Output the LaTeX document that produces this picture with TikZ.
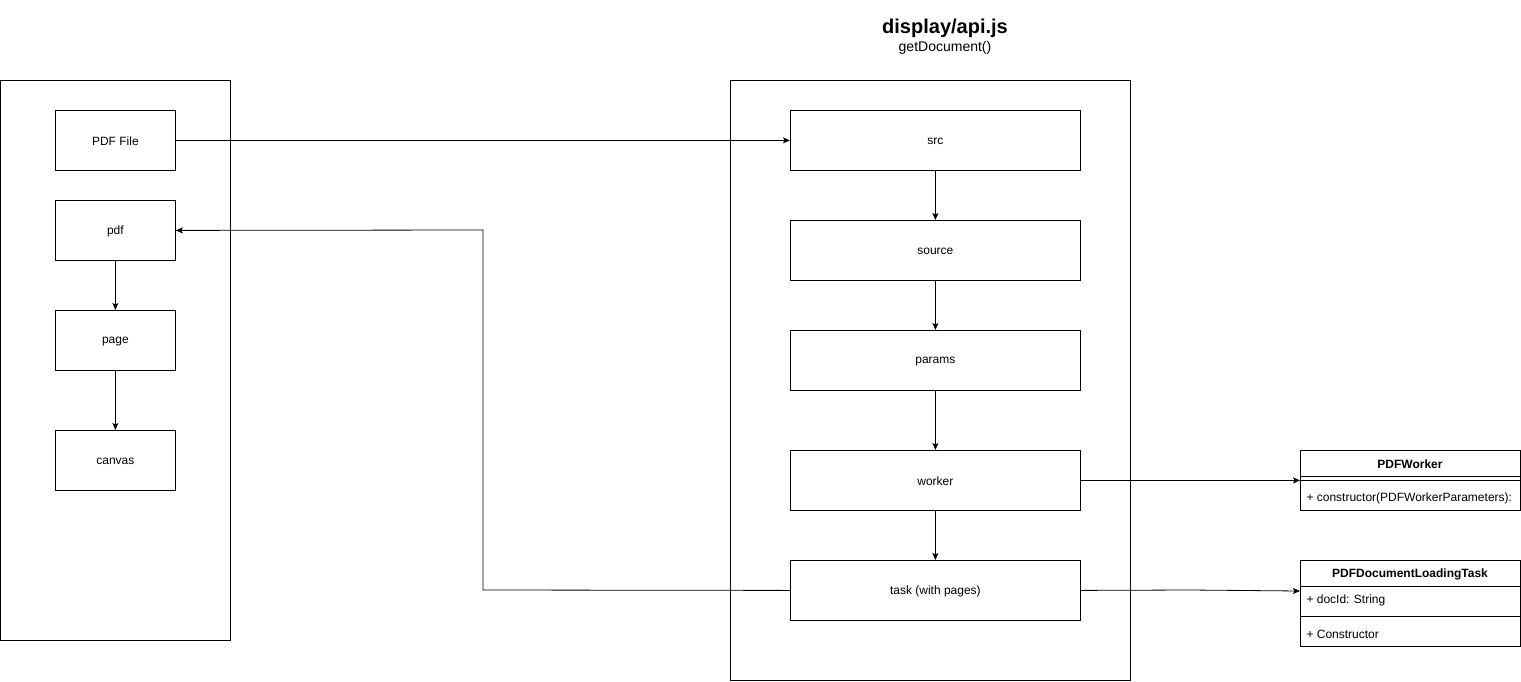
\documentclass[tikz,border=0pt]{standalone}
\usepackage{fontspec}
\setmainfont{Liberation Sans}
\usetikzlibrary{arrows.meta}
\begin{document}
\begin{tikzpicture}[x=1pt,y=-1pt,line width=1pt,
  box/.style={draw,line width=0.8pt,anchor=north west,inner sep=0pt,font=\fontsize{12}{14}\selectfont},
  cont/.style={draw,line width=0.8pt,anchor=north west,inner sep=0pt},
  lbl/.style={font=\fontsize{12}{14}\selectfont,yshift=-1pt},
  conn/.style={draw,line width=0.8pt,-{Stealth[length=7pt,width=6pt,inset=1.5pt]}},
  umltxt/.style={anchor=west,inner sep=0pt,font=\fontsize{12}{14}\selectfont}]
\useasboundingbox (0,0) rectangle (1521,681);
% containers
\node[cont,minimum width=230pt,minimum height=560pt] (left) at (0,80) {};
\node[cont,minimum width=400pt,minimum height=600pt] (right) at (730,80) {};
% title
\node[font=\bfseries\fontsize{20}{24}\selectfont,inner sep=0pt] (title) at (945,28) {display/api.js};
\node[font=\fontsize{14}{16}\selectfont,inner sep=0pt] (sub) at (945,48) {getDocument()};
% left boxes
\node[box,minimum width=120pt,minimum height=60pt] (pdffile) at (55,110) {};
\node[lbl] (pdffilet) at (pdffile.center) {PDF File};
\node[box,minimum width=120pt,minimum height=60pt] (pdf) at (55,200) {};
\node[lbl] (pdft) at (pdf.center) {pdf};
\node[box,minimum width=120pt,minimum height=60pt] (page) at (55,310) {};
\node[lbl] (paget) at (page.center) {page};
\node[box,minimum width=120pt,minimum height=60pt] (canvas) at (55,430) {};
\node[lbl] (canvast) at (canvas.center) {canvas};
% right boxes
\node[box,minimum width=290pt,minimum height=60pt] (src) at (790,110) {};
\node[lbl] (srct) at (src.center) {src};
\node[box,minimum width=290pt,minimum height=60pt] (source) at (790,220) {};
\node[lbl] (sourcet) at (source.center) {source};
\node[box,minimum width=290pt,minimum height=60pt] (params) at (790,330) {};
\node[lbl] (paramst) at (params.center) {params};
\node[box,minimum width=290pt,minimum height=60pt] (worker) at (790,450) {};
\node[lbl] (workert) at (worker.center) {worker};
\node[box,minimum width=290pt,minimum height=60pt] (task) at (790,560) {};
\node[lbl] (taskt) at (task.center) {task (with pages)};
% UML PDFWorker
\node[cont,minimum width=220pt,minimum height=60pt] (pw) at (1300,450) {};
\node[font=\bfseries\fontsize{12}{14}\selectfont,inner sep=0pt] (pwt) at (1410,464) {PDFWorker};
\draw[line width=0.8pt] (1300,476) -- (1520,476);
\draw[line width=0.8pt] (1300,480) -- (1520,480);
\node[umltxt] (pwm) at (1306,498) {+ constructor(PDFWorkerParameters):};
% UML PDFDocumentLoadingTask
\node[cont,minimum width=220pt,minimum height=86pt] (lt) at (1300,560) {};
\node[font=\bfseries\fontsize{12}{14}\selectfont,inner sep=0pt] (ltt) at (1410,574) {PDFDocumentLoadingTask};
\draw[line width=0.8pt] (1300,586) -- (1520,586);
\node[umltxt] (lta) at (1306,600.5) {+ docId: String};
\draw[line width=0.8pt] (1300,616) -- (1520,616);
\node[umltxt] (ltm) at (1306,634) {+ Constructor};
% connectors
\path[conn] (pdffile.east) -- (src.west);
\path[conn] (task.west) -- (483,590) -- (483,230) -- (pdf.east);
\path[conn] (pdf.south) -- (page.north);
\path[conn] (page.south) -- (canvas.north);
\path[conn] (src.south) -- (source.north);
\path[conn] (source.south) -- (params.north);
\path[conn] (params.south) -- (worker.north);
\path[conn] (worker.south) -- (task.north);
\path[conn] (worker.east) -- (pw.west |- worker.east);
\path[conn] (task.east) -- (1190,590) -- (1300,591);
\end{tikzpicture}
\end{document}
